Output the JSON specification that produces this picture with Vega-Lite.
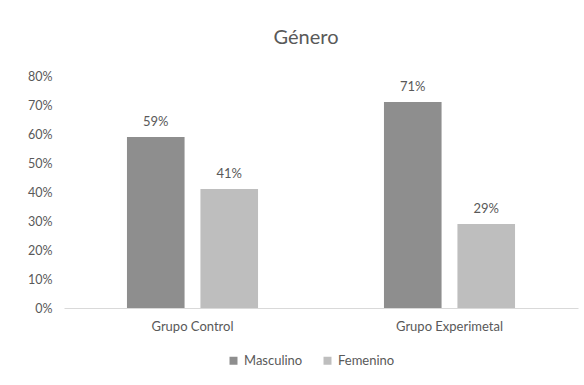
{
  "$schema": "https://vega.github.io/schema/vega-lite/v6.json",
  "autosize": {"type": "none"},
  "width": 514,
  "height": 232,
  "padding": {"left": 64, "top": 76, "right": 6, "bottom": 77},
  "background": "white",
  "title": {"text": "Género", "fontSize": 20, "font": "Lato", "fontWeight": "normal", "color": "#595959", "anchor": "middle", "dx": -15, "offset": 22},
  "data": {"values": [
    {"grupo": "Grupo Control", "genero": "Masculino", "valor": 0.59},
    {"grupo": "Grupo Control", "genero": "Femenino", "valor": 0.41},
    {"grupo": "Grupo Experimetal", "genero": "Masculino", "valor": 0.71},
    {"grupo": "Grupo Experimetal", "genero": "Femenino", "valor": 0.29}
  ]},
  "encoding": {
    "x": {"field": "grupo", "type": "nominal", "sort": null, "scale": {"paddingInner": 0.49, "paddingOuter": 0.245},
      "axis": {"title": null, "labelAngle": 0, "ticks": false, "domainColor": "#d9d9d9", "labelPadding": 12, "labelFontSize": 13, "labelFont": "Lato", "labelColor": "#595959"}},
    "xOffset": {"field": "genero", "type": "nominal", "sort": ["Masculino", "Femenino"], "scale": {"paddingInner": 0.216}},
    "y": {"field": "valor", "type": "quantitative", "scale": {"domain": [0, 0.8]},
      "axis": {"title": null, "format": ".0%", "values": [0,0.1,0.2,0.3,0.4,0.5,0.6,0.7,0.8], "labelOverlap": false, "grid": false, "domain": false, "ticks": false, "labelPadding": 12, "labelFontSize": 12.5, "labelFont": "Lato", "labelColor": "#595959"}}
  },
  "layer": [
    {"mark": {"type": "bar"},
     "encoding": {"color": {"field": "genero", "type": "nominal", "sort": ["Masculino", "Femenino"],
       "scale": {"domain": ["Masculino", "Femenino"], "range": ["#8e8e8e", "#bebebe"]},
       "legend": {"title": null, "orient": "none", "direction": "horizontal", "legendX": 163, "legendY": 278, "symbolType": "square", "symbolSize": 64, "symbolStrokeWidth": 0, "labelFontSize": 13, "labelFont": "Lato", "labelColor": "#595959", "columnPadding": 18, "labelOffset": 4}}}},
    {"mark": {"type": "text", "baseline": "bottom", "dy": -8, "fontSize": 13, "font": "Lato", "color": "#595959"},
     "encoding": {"text": {"field": "valor", "type": "quantitative", "format": ".0%"}}}
  ],
  "config": {"view": {"stroke": null}}
}
